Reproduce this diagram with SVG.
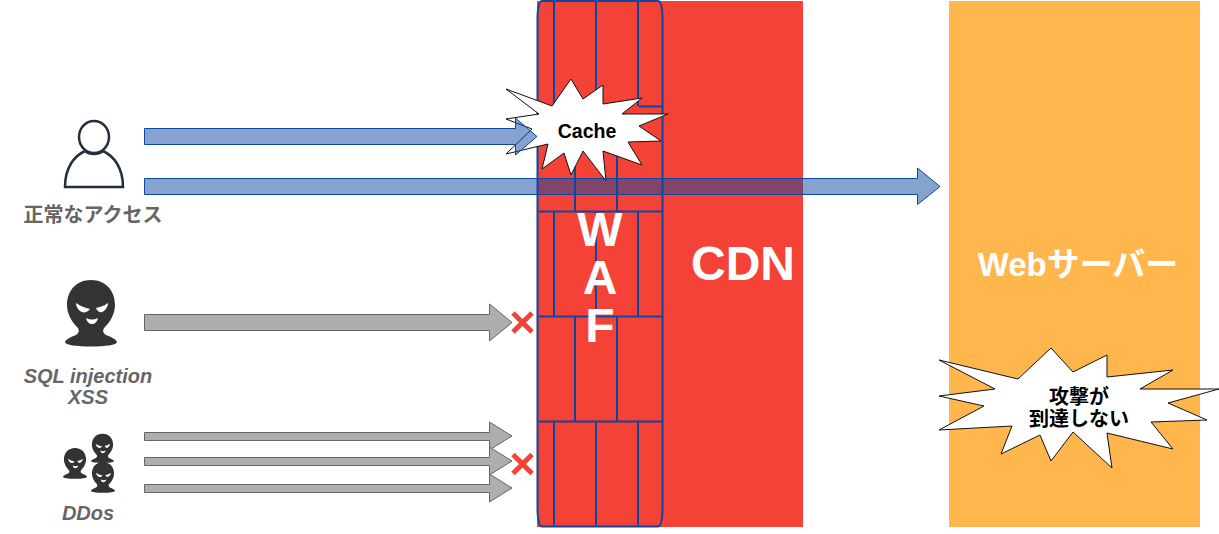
<svg xmlns="http://www.w3.org/2000/svg" width="1219" height="534" viewBox="0 0 1219 534">
<style>
.cjk{font-family:"Liberation Sans","Noto Sans CJK JP",sans-serif;font-weight:700}
.label{fill:#666;font-size:20px;text-anchor:middle}
.it{font-style:italic}
.big{fill:#fff;font-size:48px;text-anchor:middle}
.brick{fill:none;stroke:#0d47a1;stroke-width:2}
.burst{fill:#fff;stroke:#111;stroke-width:1}
.blue{fill:#0d47a1;fill-opacity:.5;stroke:#0d47a1;stroke-width:1}
.gray{fill:#aeaeae;stroke:#666;stroke-width:1}
.cross{stroke:#f44336;stroke-width:5;fill:none}
</style>
<defs>
<symbol id="mask" viewBox="0 0 52 67" overflow="visible">
<path fill="#333" d="M26 0C41 0 50 11 50 25C50 34 45 42 40 47C37 50 38 53 41 55C46 57 51 59 52 62C52 65 40 66.500 26 66.500C12 66.500 0 65 0 62C1 59 6 57 11 55C14 53 15 50 12 47C7 42 2 34 2 25C2 11 11 0 26 0Z"/>
<path fill="#fff" d="M11 23C15 26 20 28 25 29C23 32 19 33 17 32C14 31 11 27 11 23ZM43 23C39 26 35 27 31 28C32 31 35 33 37 32C40 31 43 27 43 23ZM21 38C25 40 29 40 33 38C32 42 30 44 27 44C24 44 22 42 21 38Z"/>
</symbol>
</defs>

<g id="cdn"><rect x="537" y="1" width="266" height="526" fill="#f44336"/>
<text class="cjk big" x="743" y="280">CDN</text></g>

<g id="web-server"><rect x="949" y="1" width="251" height="526" fill="#ffb74d"/>
<text class="cjk" x="1078" y="276" fill="#fff" font-size="33" text-anchor="middle">Webサーバー</text></g>

<g id="waf">
<path class="brick" d="M542 1H658Q662 1 662.500 17V510Q662 526.500 658 526.500H542Q538 526.500 537.500 510V17Q538 1 542 1Z"/>
<path class="brick" d="M639 106.500H662M539 211.500H662M539 316.500H662M539 421.500H662"/>
<path class="brick" d="M554 1V106M596 1V106M638 1V106M575 106V211M617 106V211M554 211V316M596 211V316M638 211V316M575 316V421M617 316V421M554 421V525M596 421V525M638 421V525"/>
<text class="cjk big" x="600" y="246">W</text>
<text class="cjk big" x="600" y="294">A</text>
<text class="cjk big" x="600" y="342">F</text>
</g>

<g id="cache">
<polygon class="burst" points="506,89 552,106 571,79 583,99 603,85 603,104 642,98 622,114 668,114 639,126 661,141 628,142 642,165 603,151 606,181 583,151 571,175 564,153 542,169 548,144 506,154 532,129 506,119 539,114"/>
<text class="cjk" x="587" y="138" font-size="19.500" text-anchor="middle">Cache</text>
</g>

<g id="no-reach">
<polygon class="burst" points="939,360 1018,379 1051,348 1073,372 1107,355 1107,377 1173,370 1140,389 1219,389 1168,403 1207,420 1151,422 1173,449 1107,433 1112,468 1073,432 1051,461 1040,435 1001,454 1012,426 939,430 984,406 939,396 995,389"/>
<text class="cjk" x="1079" y="404" font-size="20" text-anchor="middle">攻撃が</text>
<text class="cjk" x="1079" y="426" font-size="20" text-anchor="middle">到達しない</text>
</g>

<g id="user">
<ellipse cx="94" cy="137" rx="15" ry="16" fill="#fff" stroke="#232f3e" stroke-width="2.500"/>
<path d="M65 187C65 168 74 156 85 151C90 155 98 155 103 151C114 156 123 168 123 187Z" fill="#fff" stroke="#232f3e" stroke-width="2.500"/>
<text class="cjk label" x="93" y="222">正常なアクセス</text>
</g>

<g id="attacker">
<use href="#mask" x="65" y="280" width="52" height="67"/>
<text class="cjk label it" x="88" y="383">SQL injection</text>
<text class="cjk label it" x="88" y="404">XSS</text>
</g>

<g id="ddos">
<use href="#mask" x="63" y="447" width="24" height="33"/>
<use href="#mask" x="91" y="432" width="23" height="33"/>
<use href="#mask" x="91" y="461" width="24" height="33"/>
<text class="cjk label it" x="88" y="520">DDos</text>
</g>

<g id="connectors">
<polygon class="blue" points="144.500,128.500 515.500,128.500 515.500,118 537,136.500 515.500,155 515.500,144.500 144.500,144.500"/>
<polygon class="blue" points="144.500,178.500 917.500,178.500 917.500,168 940,186.500 917.500,204.500 917.500,194.500 144.500,194.500"/>
<polygon class="gray" points="144.500,314.500 489.500,314.500 489.500,304 512,322.500 489.500,341 489.500,330.500 144.500,330.500"/>
<polygon class="gray" points="144.500,432.500 489.500,432.500 489.500,422 512,436 489.500,450 489.500,440.500 144.500,440.500"/>
<polygon class="gray" points="144.500,457.500 489.500,457.500 489.500,447 512,461 489.500,475 489.500,465.500 144.500,465.500"/>
<polygon class="gray" points="144.500,484.500 489.500,484.500 489.500,474 512,488 489.500,502 489.500,492.500 144.500,492.500"/>
<path class="cross" d="M513 313L532 332M532 313L513 332"/>
<path class="cross" d="M513 454.500L532 473.500M532 454.500L513 473.500"/>
</g>
</svg>
